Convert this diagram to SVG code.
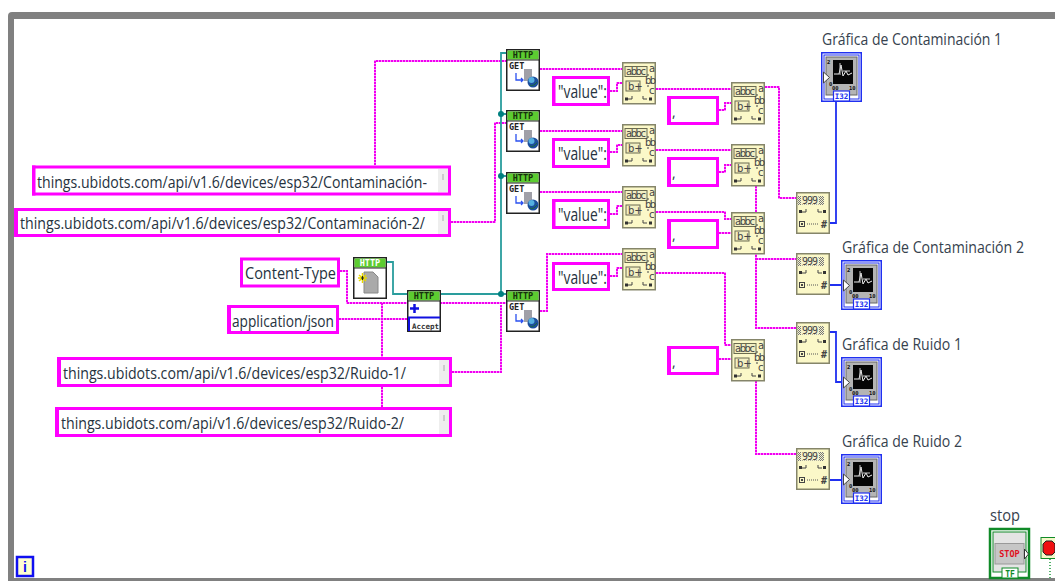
<svg xmlns="http://www.w3.org/2000/svg" width="1055" height="581" viewBox="0 0 1055 581">
<style>
text{font-family:"Open Sans","Noto Sans","Liberation Sans",sans-serif;fill:#26323e}
.t{font-size:17px}
.val{font-size:19px}
.lab{font-size:16px;fill:#36424e}
.k{fill:#fff;stroke:#ff00ff;stroke-width:3}
.thick{fill:#ff00ff}
.sb{fill:#eeeeee}
.tick{stroke:#aaa;stroke-width:1}
.w{fill:none;stroke:#f000f0;stroke-width:2;stroke-dasharray:2 1}
.wu{fill:none;stroke:#ff90ff;stroke-width:2}
.teal{fill:none;stroke:#2a9d9d;stroke-width:1.8}
.blue{fill:none;stroke:#2030f0;stroke-width:1.8}
.hd{font:bold 8.5px "DejaVu Sans Mono",monospace;text-anchor:middle;fill:#16300c}
.hw{font:bold 8.5px "DejaVu Sans Mono",monospace;text-anchor:middle;fill:#fff}
.get{font:bold 8.500px "DejaVu Sans Mono",monospace;fill:#222}
.m{font:10px "DejaVu Sans",sans-serif;fill:#444}
.n{font:10px "DejaVu Sans Mono",monospace;fill:#444}
.s{font:bold 5.5px "DejaVu Sans Mono",monospace;fill:#111}
.i32{font:bold 7.500px "DejaVu Sans Mono",monospace;fill:#2030f0;text-anchor:middle}
.comma{font-size:14px}
</style>
<defs>
<pattern id="hatch" width="2" height="2" patternUnits="userSpaceOnUse"><rect width="2" height="2" fill="#f4f2cc"/><rect width="1" height="1" fill="#777"/><rect x="1" y="1" width="1" height="1" fill="#777"/></pattern>
<path id="str" d="M375 165V61H506M451 222H495V123H506M340 271H347V303H506M339 319H407M382 303V357M382 387V407M452 372H501V305M540 69H622M540 131H622M540 192H622M540 311H547V254H622M610 91H617V83H622M610 152H617V145H622M610 214H617V206H622M610 276H617V268H622M656 89H731M656 150H731M656 212H725V219H731M656 273H725V345H731M719 110H725V103H731M719 172H725V165H731M719 233H731M719 359H731M765 87H779V198H796M756 186V328H796M756 259H796M756 381V454H796"/>
<g id="http"><rect x=".75" y=".75" width="32.500" height="40.500" fill="#fff" stroke="#222" stroke-width="1.500"/><rect x="1.500" y="1.500" width="31" height="9" fill="#5ccc30"/><path d="M1 11H33" stroke="#222"/></g>
<g id="getIcon"><path d="M10 24V31H17M15 29l2 2-2 2" fill="none" stroke="#2a50f0" stroke-width="1.300"/><rect x="18" y="20" width="8" height="12" fill="#a0a0a8"/><circle cx="27" cy="33" r="5.500" fill="#1c4f9c"/><circle cx="25.500" cy="31" r="3" fill="#55b0e0"/><path d="M24 36q3 2 7-3" stroke="#1a6a3a" fill="none"/></g>
<g id="match"><rect x=".75" y=".75" width="32.500" height="41" fill="#fbf8c8" stroke="#85856a" stroke-width="1.500"/><rect x="3" y="4.500" width="22" height="10" fill="#f2efc2" stroke="#6b6b50"/><rect x="4" y="19" width="14" height="10" fill="#f2efc2" stroke="#6b6b50"/><path d="M6 37h4v-3M21 34v3h4M26 12v2M26 23v2" stroke="#444" fill="none"/><rect x="3" y="35.500" width="3" height="3" fill="#333"/><rect x="27" y="35.500" width="3" height="3" fill="#333"/></g>
<g id="scan"><rect x=".75" y=".75" width="32.500" height="40.500" fill="#fbf8c8" stroke="#85856a" stroke-width="1.500"/><rect x="1.500" y="4" width="26.500" height="9" fill="url(#hatch)"/><rect x="5" y="4.500" width="18" height="8" fill="#f4f2cc"/><rect x="3" y="18" width="3" height="3" fill="#333"/><path d="M6 20h4v-3M22 17v3h4" stroke="#444" fill="none"/><rect x="27" y="18" width="3" height="3" fill="#333"/><rect x="3.500" y="29.500" width="5" height="5" fill="none" stroke="#444"/><rect x="5" y="31" width="2" height="2" fill="#444"/><path d="M11 32h12" stroke="#555" stroke-dasharray="1 1"/></g>
<g id="graph"><rect x=".75" y=".75" width="39.500" height="48.500" fill="#fff" stroke="#2030f0" stroke-width="1.500"/><rect x="3" y="3" width="35" height="44" fill="#fff" stroke="#2030f0"/><rect x="5" y="5" width="31" height="38" fill="#b4b4b4" stroke="#666"/><rect x="12" y="8" width="20" height="24" fill="#060606"/><path d="M13 22h5l2-9 2 11 3-5 2 4 4-2" stroke="#eee" fill="none"/><path d="M19 11v12M22 19h7" stroke="#ccc" fill="none"/><path d="M2.500 20l6 5.500-6 5.500z" fill="#fff" stroke="#444"/><rect x="12.500" y="39" width="16" height="10" fill="#fff" stroke="#2030f0" stroke-width="1.200"/></g>
</defs>

<g id="frame"><rect x="8" y="12" width="1060" height="575" rx="4" fill="#808080"/><rect x="14" y="19" width="1060" height="559" fill="#fff"/></g>

<g id="connectors">
<use href="#str" class="wu"/><use href="#str" class="w"/>
<path class="teal" d="M387 262H393V294H506M501 294V53H506M501 114H506M501 176H506"/>
<circle cx="501" cy="294" r="3" fill="#008080"/><circle cx="501" cy="114" r="3" fill="#008080"/><circle cx="501" cy="176" r="3" fill="#008080"/>
<path class="blue" d="M830 223H836V102M830 285H841M830 332H836V382H841M830 480H841"/>
<path d="M1050 559V579" stroke="#1a9a3a" stroke-width="1.500" stroke-dasharray="1 2" fill="none"/>
</g>

<g id="c-cont1"><rect class="k" x="33.500" y="167" width="416" height="27"/><rect class="thick" x="32" y="165.500" width="3.500" height="30"/><rect class="sb" x="438" y="169" width="10" height="23"/><path class="tick" d="M443 174v6"/><text class="t" x="37" y="188" textLength="390" lengthAdjust="spacingAndGlyphs">things.ubidots.com/api/v1.6/devices/esp32/Contaminación-</text></g>
<g id="c-cont2"><rect class="k" x="15.500" y="209.500" width="434" height="26"/><rect class="thick" x="14" y="208" width="4" height="29"/><rect class="sb" x="438" y="211" width="10" height="23"/><path class="tick" d="M443 215v6"/><text class="t" x="20" y="229" textLength="405" lengthAdjust="spacingAndGlyphs">things.ubidots.com/api/v1.6/devices/esp32/Contaminación-2/</text></g>
<g id="c-ctype"><rect class="k" x="241.500" y="259" width="97" height="27"/><text class="t" x="245" y="279" textLength="91" lengthAdjust="spacingAndGlyphs">Content-Type</text></g>
<g id="c-json"><rect class="k" x="228.500" y="306.500" width="109" height="26"/><rect class="thick" x="227" y="305" width="4" height="29"/><text class="t" x="232" y="327" textLength="102" lengthAdjust="spacingAndGlyphs">application/json</text></g>
<g id="c-ruido1"><rect class="k" x="58.500" y="358.500" width="392" height="27"/><rect class="thick" x="57" y="357" width="4" height="30"/><rect class="sb" x="439" y="360" width="10" height="24"/><path class="tick" d="M444 365v6"/><text class="t" x="63" y="379" textLength="343" lengthAdjust="spacingAndGlyphs">things.ubidots.com/api/v1.6/devices/esp32/Ruido-1/</text></g>
<g id="c-ruido2"><rect class="k" x="56.500" y="408.500" width="394" height="27"/><rect class="thick" x="55" y="407" width="4" height="30"/><rect class="sb" x="439" y="410" width="10" height="24"/><path class="tick" d="M444 415v6"/><text class="t" x="61" y="429" textLength="343" lengthAdjust="spacingAndGlyphs">things.ubidots.com/api/v1.6/devices/esp32/Ruido-2/</text></g>

<g id="http-open" transform="translate(353 257)"><use href="#http"/><text class="hw" x="17" y="9">HTTP</text><path d="M11 15h9l5 5v16H11z" fill="#aaa" stroke="#888"/><path d="M5 21h9M9.500 16v10M6 18l7 6M13 18l-7 6" stroke="#e8d800" stroke-width="1.500"/><path d="M8 21h3M9.500 19v4" stroke="#222"/></g>
<g id="http-header" transform="translate(407 290)"><use href="#http"/><text class="hd" x="17" y="9">HTTP</text><path d="M3 18.500h9M7.500 14v9" stroke="#1010e0" stroke-width="2.500"/><path d="M2 41V27.500H33" fill="none" stroke="#1010e0" stroke-width="2"/><text x="5" y="38.500" style="font:bold 7.500px 'DejaVu Sans Mono',monospace;fill:#333" textLength="27" lengthAdjust="spacingAndGlyphs">Accept</text></g>

<g id="get1" transform="translate(506 49)"><use href="#http"/><text class="hd" x="17" y="9">HTTP</text><text class="get" x="3" y="20">GET</text><use href="#getIcon"/></g>
<g id="get2" transform="translate(506 110)"><use href="#http"/><text class="hd" x="17" y="9">HTTP</text><text class="get" x="3" y="20">GET</text><use href="#getIcon"/></g>
<g id="get3" transform="translate(506 172)"><use href="#http"/><text class="hd" x="17" y="9">HTTP</text><text class="get" x="3" y="20">GET</text><use href="#getIcon"/></g>
<g id="get4" transform="translate(506 290)"><use href="#http"/><text class="hd" x="17" y="9">HTTP</text><text class="get" x="3" y="20">GET</text><use href="#getIcon"/></g>

<g id="v1"><rect class="k" x="553.500" y="77.500" width="55" height="27"/><rect class="thick" x="552" y="76" width="3.500" height="30"/><text class="val" x="558" y="98" textLength="49" lengthAdjust="spacingAndGlyphs">"value":</text></g>
<g id="v2"><rect class="k" x="553.500" y="139.500" width="55" height="27"/><text class="val" x="558" y="160" textLength="49" lengthAdjust="spacingAndGlyphs">"value":</text></g>
<g id="v3"><rect class="k" x="553.500" y="200.500" width="55" height="27"/><rect class="thick" x="552" y="199" width="3.500" height="30"/><text class="val" x="558" y="221" textLength="49" lengthAdjust="spacingAndGlyphs">"value":</text></g>
<g id="v4"><rect class="k" x="553.500" y="263.500" width="55" height="26"/><text class="val" x="558" y="284" textLength="49" lengthAdjust="spacingAndGlyphs">"value":</text></g>

<g id="k1"><rect class="k" x="668.500" y="97.500" width="49" height="26"/><rect class="thick" x="667" y="96" width="4" height="29"/><text class="comma" x="672" y="117">,</text></g>
<g id="k2"><rect class="k" x="668.500" y="158.500" width="49" height="27"/><rect class="thick" x="667" y="157" width="4" height="30"/><text class="comma" x="672" y="178">,</text></g>
<g id="k3"><rect class="k" x="668.500" y="220.500" width="49" height="27"/><rect class="thick" x="667" y="219" width="4" height="30"/><text class="comma" x="672" y="240">,</text></g>
<g id="k4"><rect class="k" x="668.500" y="347.500" width="49" height="26"/><rect class="thick" x="667" y="346" width="4" height="29"/><text class="comma" x="672" y="367">,</text></g>

<g id="m1" transform="translate(622 62)"><use href="#match"/><text class="m" x="4" y="13" textLength="20">abbc</text><text class="m" x="6" y="27.500">b+</text><text class="m" x="27" y="10">a</text><text class="m" x="23" y="22" textLength="11">bb</text><text class="m" x="27" y="32">c</text></g>
<g id="m2" transform="translate(622 124)"><use href="#match"/><text class="m" x="4" y="13" textLength="20">abbc</text><text class="m" x="6" y="27.500">b+</text><text class="m" x="27" y="10">a</text><text class="m" x="23" y="22" textLength="11">bb</text><text class="m" x="27" y="32">c</text></g>
<g id="m3" transform="translate(622 186)"><use href="#match"/><text class="m" x="4" y="13" textLength="20">abbc</text><text class="m" x="6" y="27.500">b+</text><text class="m" x="27" y="10">a</text><text class="m" x="23" y="22" textLength="11">bb</text><text class="m" x="27" y="32">c</text></g>
<g id="m4" transform="translate(622 248)"><use href="#match"/><text class="m" x="4" y="13" textLength="20">abbc</text><text class="m" x="6" y="27.500">b+</text><text class="m" x="27" y="10">a</text><text class="m" x="23" y="22" textLength="11">bb</text><text class="m" x="27" y="32">c</text></g>
<g id="m5" transform="translate(731 82)"><use href="#match"/><text class="m" x="4" y="13" textLength="20">abbc</text><text class="m" x="6" y="27.500">b+</text><text class="m" x="27" y="10">a</text><text class="m" x="23" y="22" textLength="11">bb</text><text class="m" x="27" y="32">c</text></g>
<g id="m6" transform="translate(731 144)"><use href="#match"/><text class="m" x="4" y="13" textLength="20">abbc</text><text class="m" x="6" y="27.500">b+</text><text class="m" x="27" y="10">a</text><text class="m" x="23" y="22" textLength="11">bb</text><text class="m" x="27" y="32">c</text></g>
<g id="m7" transform="translate(731 212)"><use href="#match"/><text class="m" x="4" y="13" textLength="20">abbc</text><text class="m" x="6" y="27.500">b+</text><text class="m" x="27" y="10">a</text><text class="m" x="23" y="22" textLength="11">bb</text><text class="m" x="27" y="32">c</text></g>
<g id="m8" transform="translate(731 339)"><use href="#match"/><text class="m" x="4" y="13" textLength="20">abbc</text><text class="m" x="6" y="27.500">b+</text><text class="m" x="27" y="10">a</text><text class="m" x="23" y="22" textLength="11">bb</text><text class="m" x="27" y="32">c</text></g>

<g id="s1" transform="translate(796 192)"><use href="#scan"/><text class="n" x="6" y="12" textLength="16">999</text><text class="n" x="25" y="36" style="font-weight:bold">#</text></g>
<g id="s2" transform="translate(796 253)"><use href="#scan"/><text class="n" x="6" y="12" textLength="16">999</text><text class="n" x="25" y="36" style="font-weight:bold">#</text></g>
<g id="s3" transform="translate(796 322)"><use href="#scan"/><text class="n" x="6" y="12" textLength="16">999</text><text class="n" x="25" y="36" style="font-weight:bold">#</text></g>
<g id="s4" transform="translate(796 448)"><use href="#scan"/><text class="n" x="6" y="12" textLength="16">999</text><text class="n" x="25" y="36" style="font-weight:bold">#</text></g>

<g id="g1"><text class="lab" x="822" y="45" textLength="180" lengthAdjust="spacingAndGlyphs">Gráfica de Contaminación 1</text><g transform="translate(821 52)"><use href="#graph"/><text class="s" x="6" y="12">2</text><text class="s" x="8" y="34">0</text><text class="s" x="11" y="38">00</text><text class="s" x="28" y="38">10</text><text class="i32" x="20.500" y="47">I32</text></g></g>
<g id="g2"><text class="lab" x="842" y="253" textLength="182" lengthAdjust="spacingAndGlyphs">Gráfica de Contaminación 2</text><g transform="translate(841 260)"><use href="#graph"/><text class="s" x="6" y="12">2</text><text class="s" x="8" y="34">0</text><text class="s" x="11" y="38">00</text><text class="s" x="28" y="38">10</text><text class="i32" x="20.500" y="47">I32</text></g></g>
<g id="g3"><text class="lab" x="842" y="350" textLength="120" lengthAdjust="spacingAndGlyphs">Gráfica de Ruido 1</text><g transform="translate(841 357)"><use href="#graph"/><text class="s" x="6" y="12">2</text><text class="s" x="8" y="34">0</text><text class="s" x="11" y="38">00</text><text class="s" x="28" y="38">10</text><text class="i32" x="20.500" y="47">I32</text></g></g>
<g id="g4"><text class="lab" x="842" y="447" textLength="120" lengthAdjust="spacingAndGlyphs">Gráfica de Ruido 2</text><g transform="translate(841 454)"><use href="#graph"/><text class="s" x="6" y="12">2</text><text class="s" x="8" y="34">0</text><text class="s" x="11" y="38">00</text><text class="s" x="28" y="38">10</text><text class="i32" x="20.500" y="47">I32</text></g></g>

<g id="stop"><text class="lab" x="990" y="521" textLength="30" lengthAdjust="spacingAndGlyphs">stop</text><rect x="990" y="529" width="39" height="49" fill="#fff" stroke="#108a28" stroke-width="2.500"/><rect x="993" y="532" width="33" height="40" fill="#e4e4e4" stroke="#108a28"/><rect x="995" y="543.500" width="29" height="20.500" fill="#c6c6c6" stroke="#999"/><text x="1009.500" y="557" style="font:bold 8.500px 'DejaVu Sans Mono',monospace;fill:#e01020;text-anchor:middle">STOP</text><path d="M1024.500 549l4 5-4 5z" fill="#fff" stroke="#333"/><rect x="1002" y="568" width="16" height="10" fill="#fff" stroke="#108a28"/><text x="1010" y="577" style="font:bold 8px 'DejaVu Sans Mono',monospace;fill:#108a28;text-anchor:middle">TF</text></g>
<g id="loop-cond"><rect x="1041" y="537.500" width="16" height="21" fill="#f4f8c8" stroke="#108a28"/><path d="M1046 541h6l3 3v8l-3 3h-6l-3-3v-8z" fill="#f01010" stroke="#222"/></g>
<g id="iter"><rect x="17" y="557" width="16" height="19" fill="#ffffd0" stroke="#1010f0" stroke-width="2.500"/><text x="25" y="572" style="font:bold 14px 'Liberation Sans',sans-serif;fill:#1010f0;text-anchor:middle">i</text></g>
</svg>
